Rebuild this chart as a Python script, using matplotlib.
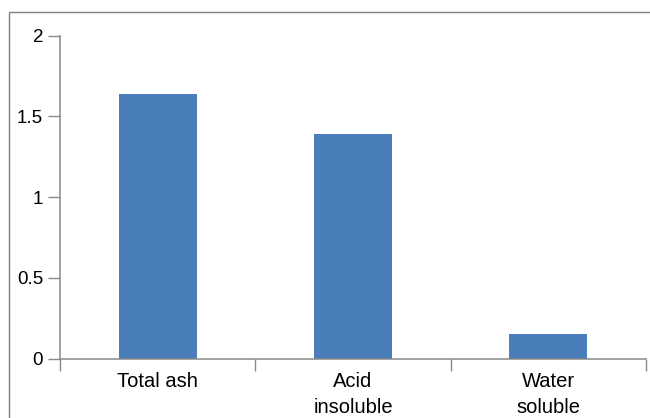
import matplotlib.pyplot as plt
from matplotlib.patches import Rectangle
import numpy as np

# === DATA ===
categories = ["Total ash", "Acid\ninsoluble", "Water\nsoluble"]
values = [1.64, 1.39, 0.15]
yticks = [0, 0.5, 1, 1.5, 2]
ytick_labels = ["0", "0.5", "1", "1.5", "2"]

# === STYLE ===
BAR_COLOR = "#4A7EBB"
AXIS_COLOR = "#898989"
plt.rcParams["font.family"] = ["Liberation Sans", "DejaVu Sans"]

fig = plt.figure(figsize=(6.5, 4.18), dpi=100)
ax = fig.add_axes([60 / 650, 1 - 358.7 / 418, 586 / 650, (358.7 - 35.5) / 418])

x = np.arange(len(categories))
ax.bar(x, values, width=0.4, color=BAR_COLOR, zorder=2)

ax.set_xlim(-0.5, len(categories) - 0.5)
ax.set_ylim(0, 2)

# y axis
ax.set_yticks(yticks)
ax.set_yticklabels(ytick_labels)
ax.tick_params(axis="y", direction="out", length=8.6, width=1.0, color=AXIS_COLOR,
               labelsize=13.5, pad=3.5)

# x axis: boundary ticks without labels, category labels at centres
ax.set_xticks(np.arange(len(categories) + 1) - 0.5)
ax.set_xticklabels([])
ax.set_xticks(x, minor=True)
ax.set_xticklabels(categories, minor=True, linespacing=1.45)
ax.tick_params(axis="x", which="major", direction="out", length=8.6, width=1.0,
               color=AXIS_COLOR)
ax.tick_params(axis="x", which="minor", length=0, labelsize=14.5, pad=9.5)

for side in ["top", "right"]:
    ax.spines[side].set_visible(False)
for side in ["left", "bottom"]:
    ax.spines[side].set_color(AXIS_COLOR)
    ax.spines[side].set_linewidth(1.1)

# outer frame (only top and left edges visible in the picture)
fig.add_artist(Rectangle((9 / 650, -0.1), 1.2, 1.1 - 12.5 / 418,
                         transform=fig.transFigure, fill=False,
                         edgecolor="#808080", linewidth=1.0))

fig.savefig("out.png", dpi=100)
